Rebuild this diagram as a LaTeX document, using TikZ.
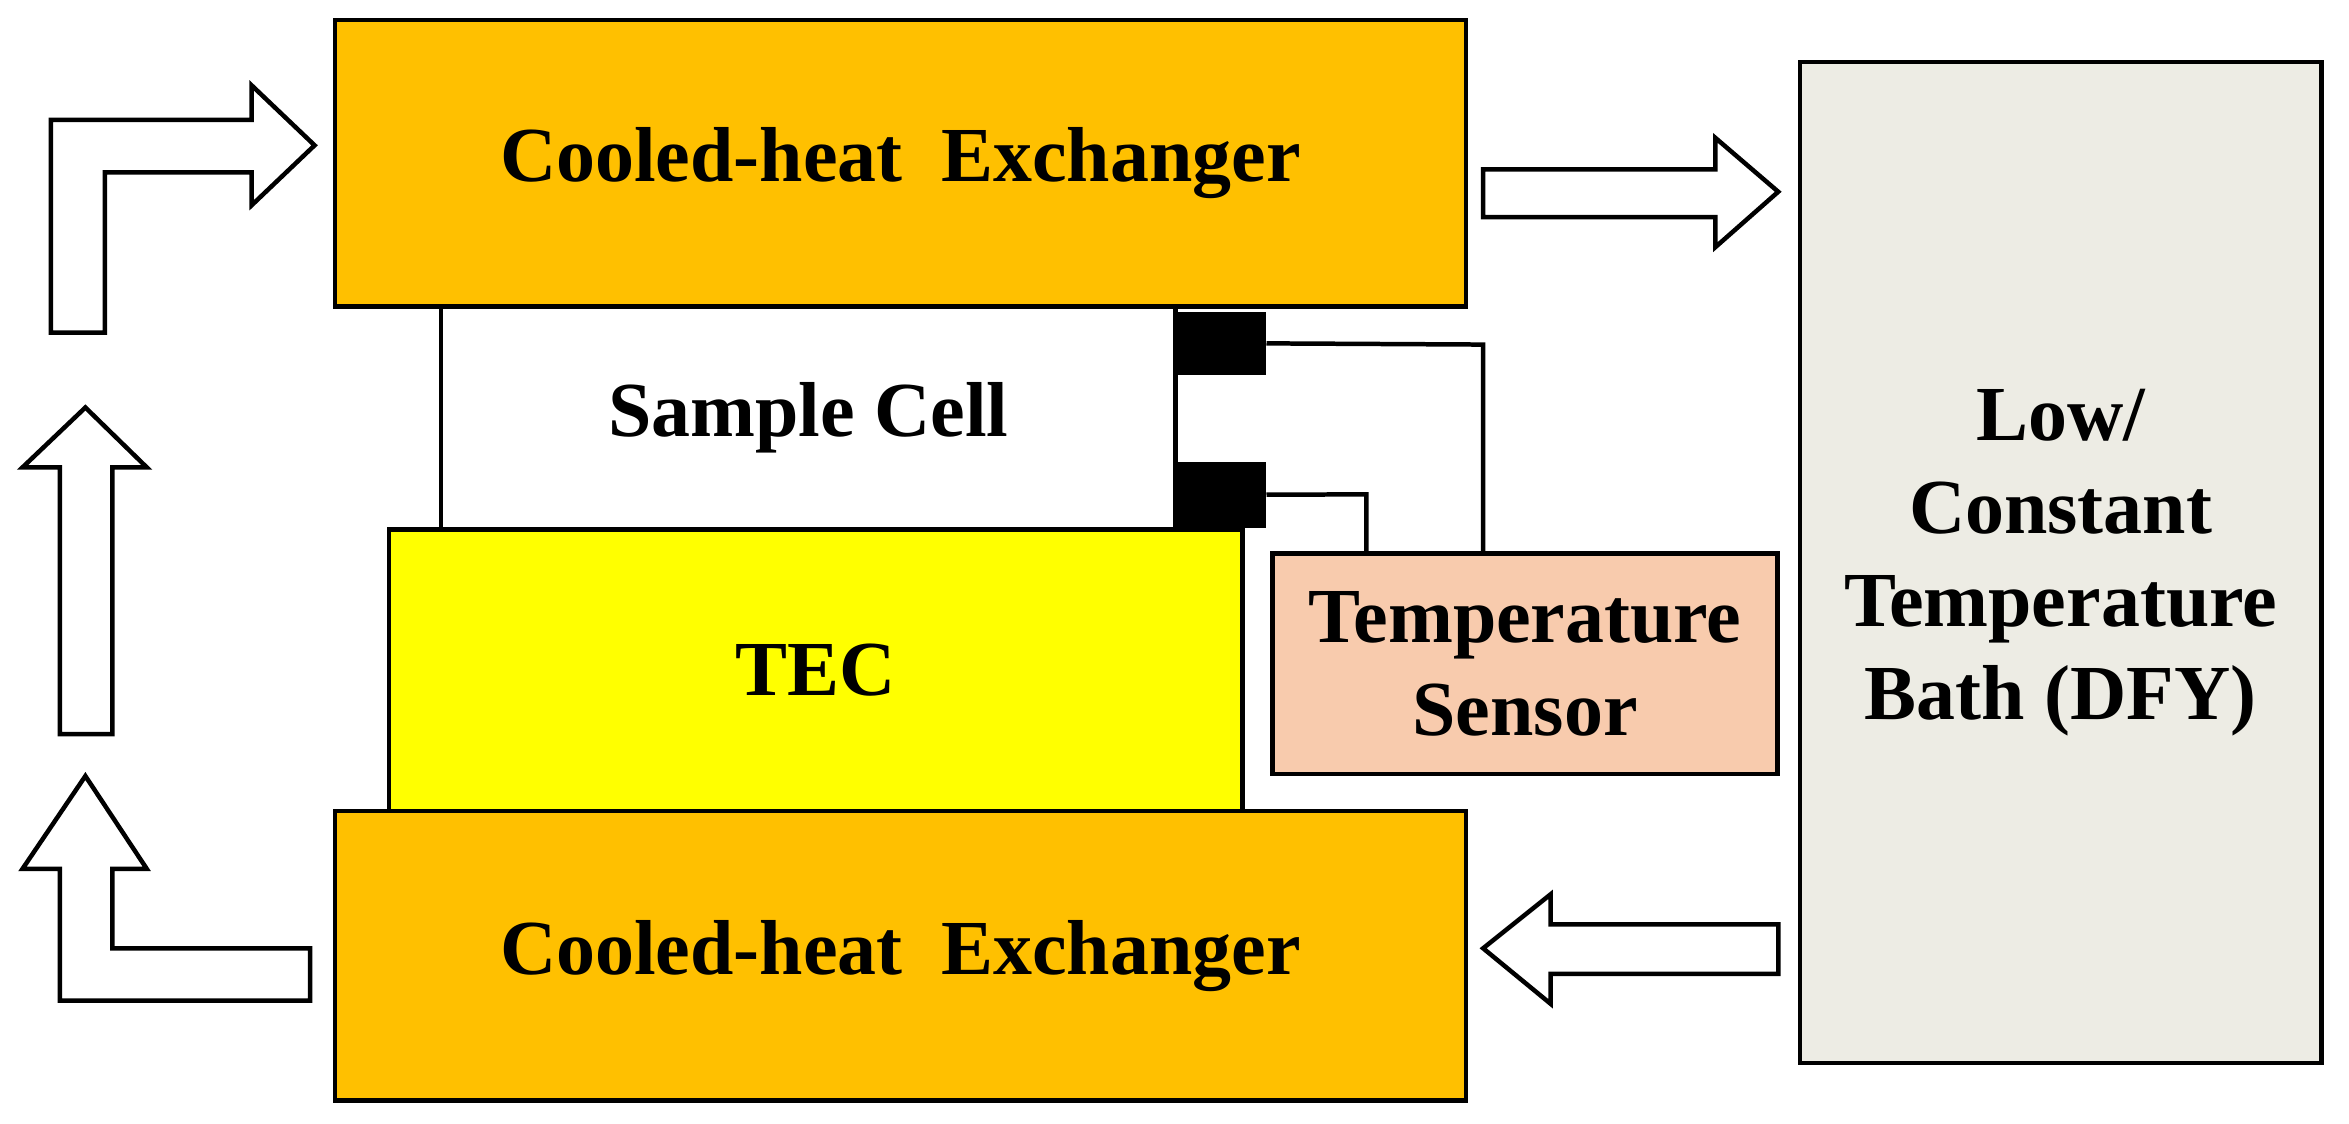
\documentclass[tikz,border=0pt]{standalone}
\usepackage{fontspec}
\setmainfont{Liberation Serif}
\usetikzlibrary{positioning}
\definecolor{exch}{RGB}{255,192,0}
\definecolor{tec}{RGB}{255,255,0}
\definecolor{sens}{RGB}{248,203,173}
\definecolor{bath}{RGB}{237,236,228}
\tikzset{
  block/.style={draw,line width=3,anchor=north west,inner sep=0,align=center,font=\fontsize{52}{62}\selectfont\bfseries},
  flow/.style={draw,line width=3,fill=white,line join=miter},
  wire/.style={line width=3}
}
\begin{document}
\begin{tikzpicture}[x=1pt,y=1pt,yscale=-1]
\useasboundingbox (0,0) rectangle (1568,750);

%Shapes
\node[block,fill=exch,minimum width=755,minimum height=191] (exTop) at (222,12) {Cooled-heat\ \ Exchanger};
\node[block,fill=white,minimum width=490,minimum height=149] (cell) at (293,203) {Sample Cell};
\node[block,fill=tec,minimum width=570,minimum height=188] (tec) at (258,352) {TEC};
\node[block,fill=exch,minimum width=755,minimum height=193] (exBot) at (222,540) {Cooled-heat\ \ Exchanger};
\node[block,fill=sens,minimum width=337,minimum height=147] (sensor) at (848,368) {Temperature\\Sensor};
\node[block,fill=bath,minimum width=348,minimum height=668] (bath) at (1200,40) {Low/\\Constant\\Temperature\\Bath (DFY)};

%Probes
\node[fill=black,anchor=north west,minimum width=62,minimum height=42,inner sep=0] (probeA) at (783,208) {};
\node[fill=black,anchor=north west,minimum width=62,minimum height=44,inner sep=0] (probeB) at (783,308) {};

%Wires
\coordinate (wA) at (990,230);
\coordinate (wB) at (912,330);
\draw[wire] (probeA.east) -- (wA) -- (wA |- sensor.north);
\draw[wire] (probeB.east) -- (wB) -- (wB |- sensor.north);

%Flow arrows
\draw[flow] (34,222) -- (34,80) -- (168,80) -- (168,57) -- (210,97) -- (168,137) -- (168,115) -- (70,115) -- (70,222) -- cycle;
\draw[flow] (40,490) -- (40,312) -- (15,312) -- (57,272) -- (98,312) -- (75,312) -- (75,490) -- cycle;
\draw[flow] (207,668) -- (40,668) -- (40,580) -- (15,580) -- (57,518) -- (98,580) -- (75,580) -- (75,633) -- (207,633) -- cycle;
\draw[flow] (990,113) -- (1145,113) -- (1145,92) -- (1187,128) -- (1145,165) -- (1145,145) -- (990,145) -- cycle;
\draw[flow] (1187,617) -- (1035,617) -- (1035,597) -- (990,633) -- (1035,670) -- (1035,650) -- (1187,650) -- cycle;

\end{tikzpicture}
\end{document}
